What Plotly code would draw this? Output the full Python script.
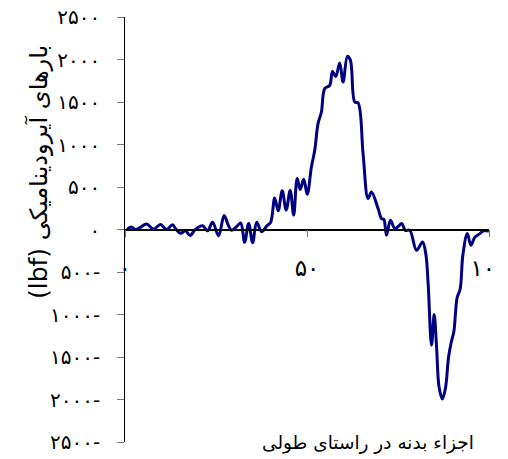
import plotly.graph_objects as go

# ---- data ----
x_pos = [0.6, 1.65, 2.89, 4.2, 5.91, 7.84, 9.76, 11.41, 13.06, 13.9, 15.26, 16.64, 17.88,
         19.39, 21.31, 22.69, 24.06, 25.71, 27.23, 28.47, 29.29, 30.58, 31.77, 32.87,
         33.97, 35.07, 36.17, 37.54, 38.92, 40.02, 41.12, 42.08, 43.18, 44.28, 45.38,
         46.34, 47.30, 48.13, 49.09, 50.06, 51.21, 52.12, 53.03, 53.96, 54.87, 56.24,
         56.99, 57.89, 58.99, 59.90, 61.11, 61.94, 63.12, 64.03, 65.40, 66.78, 67.71,
         69.53, 70.46, 71.1, 71.84, 72.94, 74.12, 74.9, 76.05, 77.0, 78.24, 80.09,
         81.74, 82.65, 83.28, 84.21, 84.93, 85.59, 86.30, 87.18, 88.06, 88.89, 89.66,
         90.35, 91.25, 92.08, 92.82, 94.06, 95.02, 96.12, 97.50, 98.40, 100.0]
force = [0, 30, 0, 25, 65, 5, 60, 0, 55, 10, -45, -15, -70,
         5, 45, -15, 85, -75, 165, 40, -10, 30, 77, -150,
         70, -155, 85, -25, 40, 85, 370, 220, 455, 230, 460,
         170, 600, 470, 590, 415, 735, 932, 1246, 1382, 1658, 1696,
         1860, 1800, 1960, 1735, 2038, 1990, 1500, 1490, 893, 364, 441,
         246, 128, 120, -68, 108, 10, 30, 70, -10, -10, -245,
         -147, -290, -640, -1362, -1000, -1380, -1860, -1995, -1860, -1500, -1320,
         -1200, -800, -700, -300, -48, -186, -90, -48, -17, -17]

y_tickvals = [2500, 2000, 1500, 1000, 500, 0, -500, -1000, -1500, -2000, -2500]
y_ticktext = ["۲۵۰۰", "۲۰۰۰", "۱۵۰۰", "۱۰۰۰", "۵۰۰", "۰",
              "۵۰۰-", "۱۰۰۰-", "۱۵۰۰-", "۲۰۰۰-", "۲۵۰۰-"]
x_tickvals = [0, 50, 100]
x_ticktext = ["۰", "۵۰", "۱۰۰"]

y_title = "بارهای آیرودینامیکی"
y_unit = "(lbf)"
x_title = "اجزاء بدنه در راستای طولی"

FONT = "DejaVu Sans"
PAD = "\u00a0\u00a0"  # extra gap between y tick labels and the tick marks

fig = go.Figure()
fig.add_trace(go.Scatter(
    x=x_pos, y=force, mode="lines",
    line=dict(color="#000080", width=3, shape="spline", smoothing=1.0),
    hoverinfo="skip", showlegend=False,
))

# the page body adds an 8px offset; figure is sized to fit the 508x459 window
fig.update_layout(
    width=500, height=451,
    margin=dict(l=117, r=19, t=9, b=17),
    paper_bgcolor="white", plot_bgcolor="white",
    font=dict(family=FONT, color="black"),
    xaxis=dict(
        range=[0, 100], anchor="free", position=0.5, automargin=False,
        showline=True, linecolor="black", linewidth=1.5,
        showgrid=False, zeroline=False,
        ticks="outside", ticklen=7, tickwidth=1, tickcolor="#777",
        tickvals=x_tickvals, ticktext=x_ticktext,
        tickfont=dict(size=23, family=FONT),
        ticklabelstandoff=11, ticklabeloverflow="allow",
    ),
    yaxis=dict(
        range=[-2500, 2500], automargin=False,
        showline=True, linecolor="black", linewidth=1.2,
        showgrid=False, zeroline=False,
        ticks="outside", ticklen=7, tickwidth=1, tickcolor="#777",
        tickvals=y_tickvals, ticktext=[t + PAD for t in y_ticktext],
        tickfont=dict(size=20, family=FONT),
        ticklabeloverflow="allow",
    ),
    annotations=[
        dict(text=f"<span style='font-size:25px'>{y_unit}</span> {y_title}",
             textangle=-90, xref="paper", yref="paper",
             x=(38 - 125) / 364, y=(442 - 172) / 425,
             xanchor="center", yanchor="middle", showarrow=False,
             font=dict(size=24, family=FONT)),
        dict(text=x_title, xref="paper", yref="paper",
             x=(368 - 125) / 364, y=(442 - 443) / 425,
             xanchor="center", yanchor="middle", showarrow=False,
             font=dict(size=18.5, family=FONT)),
    ],
)

fig.write_html("out.html")
